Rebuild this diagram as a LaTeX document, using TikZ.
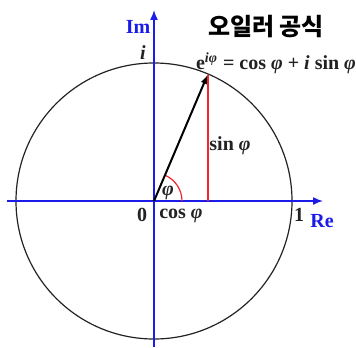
\documentclass[tikz,border=0pt]{standalone}
\usepackage{fontspec}
\setmainfont{Liberation Serif}
\newfontfamily\krfont{Noto Sans CJK KR}
\usetikzlibrary{arrows.meta, calc}
\definecolor{eulerblue}{HTML}{1C1CE8}
\definecolor{eulerred}{HTML}{F0282C}
\definecolor{eulerdark}{HTML}{222222}
\tikzset{
  axis/.style={-{Latex[length=5pt, width=4pt]}, line width=0.75pt, eulerblue},
  unitcirc/.style={line width=0.6pt, eulerdark},
  vec/.style={-{Latex[length=4.5pt, width=3.4pt]}, line width=1pt, black},
  proj/.style={line width=0.6pt, draw=eulerred},
  lbl/.style={font=\bfseries\fontsize{10}{12}\selectfont, text=eulerdark, inner sep=0pt},
  axlbl/.style={lbl, text=eulerblue},
  title/.style={font=\krfont\bfseries\fontsize{12}{14}\selectfont, inner sep=0pt},
}
\begin{document}
\begin{tikzpicture}[x=0.5pt, y=0.5pt]
        \useasboundingbox (-154,-146) rectangle (202,201);
        \coordinate (O) at (0,0);
        \coordinate (P) at (67:137);
        \coordinate (Q) at (P |- O);
        \coordinate (reL) at (-147,0);
        \coordinate (reR) at (169,0);
        \coordinate (imB) at (0,-146);
        \coordinate (imT) at (0,191);
        % circle and axes
        \draw[unitcirc] (O) circle[radius=138];
        \draw[axis] (reL) -- (reR);
        \draw[axis] (imB) -- (imT);
        % angle and projection
        \draw[proj] (28,0) arc[start angle=0, end angle=67, radius=28];
        \draw[proj, line width=1pt] (Q) -- (P);
        \draw[vec] (O) -- (P);
        % labels
        \node[axlbl] (im) at (-16,174) {Im};
        \node[lbl] (ilbl) at (-11,148) {\textit{i}};
        \node[title] (ttl) at (112,174) {오일러 공식};
        \node[lbl] (eq) at (122,138) {e\textsuperscript{\itshape iφ} = cos \textit{φ} + \textit{i} sin \textit{φ}};
        \node[lbl] (sin) at (76,55) {sin \textit{φ}};
        \node[lbl] (phi) at (14,8) {\textit{φ}};
        \node[lbl] (zero) at (-12,-14) {0};
        \node[lbl] (cos) at (27,-15) {cos \textit{φ}};
        \node[lbl] (one) at (145,-14) {1};
        \node[axlbl] (re) at (168,-20) {Re};
      \end{tikzpicture}
\end{document}
